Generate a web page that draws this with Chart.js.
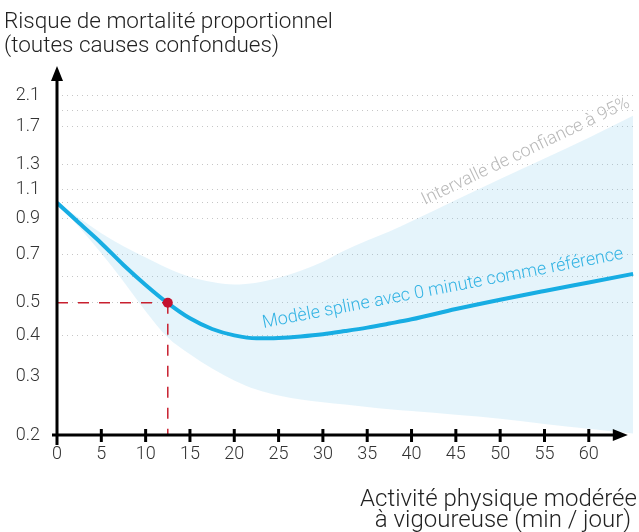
<!DOCTYPE html>
<html><head><meta charset="utf-8">
<script src="https://cdn.jsdelivr.net/npm/chart.js@4.4.1/dist/chart.umd.min.js"></script>
<style>html,body{margin:0;padding:0;background:#fff}#wrap{width:639px;height:532px;position:relative}</style>
</head><body><div id="wrap"><canvas id="c"></canvas></div>
<script>
// ---- data ----
const minutes     = [0, 2.5, 5, 7.5, 10, 12.5, 15, 17.5, 20, 22.5, 25, 27.5, 30, 32.5, 35, 37.5, 40, 45, 50, 55, 60, 65];
const splineRisk  = [1.0, 0.869, 0.756, 0.650, 0.566, 0.499, 0.449, 0.417, 0.399, 0.391, 0.392, 0.396, 0.402, 0.411, 0.421, 0.433, 0.446, 0.479, 0.511, 0.543, 0.576, 0.611];
const upperCI     = [1.0, 0.90, 0.81, 0.74, 0.685, 0.635, 0.598, 0.578, 0.568, 0.575, 0.595, 0.625, 0.665, 0.72, 0.77, 0.82, 0.88, 1.02, 1.18, 1.36, 1.57, 1.83];
const lowerCI     = [1.0, 0.845, 0.705, 0.58, 0.472, 0.393, 0.350, 0.317, 0.292, 0.274, 0.263, 0.256, 0.251, 0.247, 0.243, 0.239, 0.236, 0.23, 0.224, 0.216, 0.209, 0.202];
const yTickValues = [0.2, 0.3, 0.4, 0.5, 0.6, 0.7, 0.9, 1.0, 1.1, 1.3, 1.7, 1.9, 2.1];
const yTickLabels = ['0.2', '0.3', '0.4', '0.5', '', '0.7', '0.9', '', '1.1', '1.3', '1.7', '', '2.1'];
const xTickValues = [0, 5, 10, 15, 20, 25, 30, 35, 40, 45, 50, 55, 60];
const refMinutes  = 12.5;
const refRisk     = 0.5;
const yTitle      = ['Risque de mortalité proportionnel', '(toutes causes confondues)'];
const xTitle      = ['Activité physique modérée', 'à vigoureuse (min / jour)'];
const ciLabel     = 'Intervalle de confiance à 95%';
const splineLabel = 'Modèle spline avec 0 minute comme référence';

const pts = (ys) => minutes.map((m, i) => ({x: m, y: ys[i]}));
const FONT = 'Roboto';

const decor = {
  id: 'decor',
  afterDraw(chart) {
    const ctx = chart.ctx, xs = chart.scales.x, ys = chart.scales.y, ca = chart.chartArea;
    const x0 = xs.getPixelForValue(0), y0 = ys.getPixelForValue(ys.min);
    ctx.save();
    ctx.strokeStyle = '#000'; ctx.fillStyle = '#000'; ctx.lineWidth = 3; ctx.lineCap = 'butt';
    // y axis
    ctx.beginPath(); ctx.moveTo(x0, y0 + 10); ctx.lineTo(x0, ca.top + 14); ctx.stroke();
    ctx.beginPath(); ctx.moveTo(x0, ca.top + 1); ctx.lineTo(x0 - 6, ca.top + 16); ctx.lineTo(x0 + 6, ca.top + 16); ctx.closePath(); ctx.fill();
    // x axis
    const xEnd = xs.getPixelForValue(64.4);
    ctx.beginPath(); ctx.moveTo(x0 - 5, y0); ctx.lineTo(xEnd - 12, y0); ctx.stroke();
    ctx.beginPath(); ctx.moveTo(xEnd, y0); ctx.lineTo(xEnd - 15, y0 - 6); ctx.lineTo(xEnd - 15, y0 + 6); ctx.closePath(); ctx.fill();
    // x tick marks
    xTickValues.forEach(v => {
      if (v === 0) return;
      const px = xs.getPixelForValue(v);
      ctx.beginPath(); ctx.moveTo(px, y0 - 6); ctx.lineTo(px, y0 + 7); ctx.stroke();
    });
    // titles
    ctx.fillStyle = '#222';
    ctx.font = '300 22.5px ' + FONT;
    ctx.textAlign = 'left'; ctx.textBaseline = 'alphabetic';
    ctx.fillText(yTitle[0], 4, 28);
    ctx.fillText(yTitle[1], 4, 52);
    ctx.font = '300 24px ' + FONT;
    ctx.textAlign = 'center';
    ctx.fillText(xTitle[0], 498.5, 506);
    ctx.fillText(xTitle[1], 503, 527);
    // rotated labels
    ctx.textAlign = 'left';
    ctx.save();
    ctx.translate(xs.getPixelForValue(41.5), ys.getPixelForValue(0.985));
    ctx.rotate(-25.6 * Math.PI / 180);
    ctx.fillStyle = '#b9b9b9'; ctx.font = '300 18px ' + FONT;
    ctx.fillText(ciLabel, 0, 0);
    ctx.restore();
    ctx.save();
    ctx.translate(xs.getPixelForValue(23.3), ys.getPixelForValue(0.42));
    ctx.rotate(-10.9 * Math.PI / 180);
    ctx.fillStyle = '#35b4e4'; ctx.font = '300 18px ' + FONT;
    ctx.fillText(splineLabel, 0, 0);
    ctx.restore();
    ctx.restore();
  }
};

new Chart(document.getElementById('c'), {
  type: 'scatter',
  data: {
    datasets: [
      { label: 'upper', data: pts(upperCI), showLine: true, borderWidth: 0, pointRadius: 0, fill: false, cubicInterpolationMode: 'monotone', order: 5 },
      { label: 'lower', data: pts(lowerCI), showLine: true, borderWidth: 0, pointRadius: 0, fill: '-1', backgroundColor: 'rgba(125,200,235,0.2)', cubicInterpolationMode: 'monotone', order: 4 },
      { label: 'spline', data: pts(splineRisk), showLine: true, borderColor: '#17ade3', borderWidth: 4, pointRadius: 0, fill: false, cubicInterpolationMode: 'monotone', order: 2 },
      { label: 'hdash', data: [{x: 0, y: refRisk}, {x: refMinutes, y: refRisk}], showLine: true, borderColor: '#c8202f', borderWidth: 1.5, borderDash: [11, 10], pointRadius: 0, fill: false, order: 3 },
      { label: 'vdash', data: [{x: refMinutes, y: refRisk}, {x: refMinutes, y: 0.2}], showLine: true, borderColor: '#c8202f', borderWidth: 1.5, borderDash: [11, 10], pointRadius: 0, fill: false, order: 3 },
      { label: 'ref', data: [{x: refMinutes, y: refRisk}], showLine: false, pointRadius: 5, pointBackgroundColor: '#c4122f', pointBorderWidth: 0, order: 0 }
    ]
  },
  options: {
    responsive: true, maintainAspectRatio: false, animation: false,
    layout: { padding: { top: 65, left: 0, right: 0, bottom: 0 } },
    plugins: { legend: { display: false }, tooltip: { enabled: false }, title: { display: false } },
    scales: {
      x: {
        type: 'linear', min: 0, max: 65.1,
        afterBuildTicks: s => { s.ticks = xTickValues.map(v => ({value: v})); },
        afterFit: s => { s.height = 97; },
        grid: { display: false, drawTicks: false },
        border: { display: false },
        ticks: { padding: 9, color: '#333', font: { family: FONT, weight: '300', size: 18 }, callback: v => String(v) }
      },
      y: {
        type: 'logarithmic', min: 0.2, max: 2.6,
        afterBuildTicks: s => { s.ticks = yTickValues.map(v => ({value: v})); },
        afterFit: s => { s.width = 57; },
        grid: { drawTicks: false, lineWidth: 1, color: c => (c.tick && c.tick.value <= 0.3) ? 'rgba(0,0,0,0)' : '#c6c6c6' },
        border: { display: false, dash: [1, 4] },
        ticks: { padding: 17, color: '#333', font: { family: FONT, weight: '300', size: 18 },
          callback: v => { const i = yTickValues.indexOf(v); return i >= 0 ? yTickLabels[i] : ''; } }
      }
    }
  },
  plugins: [decor]
});
</script></body></html>
